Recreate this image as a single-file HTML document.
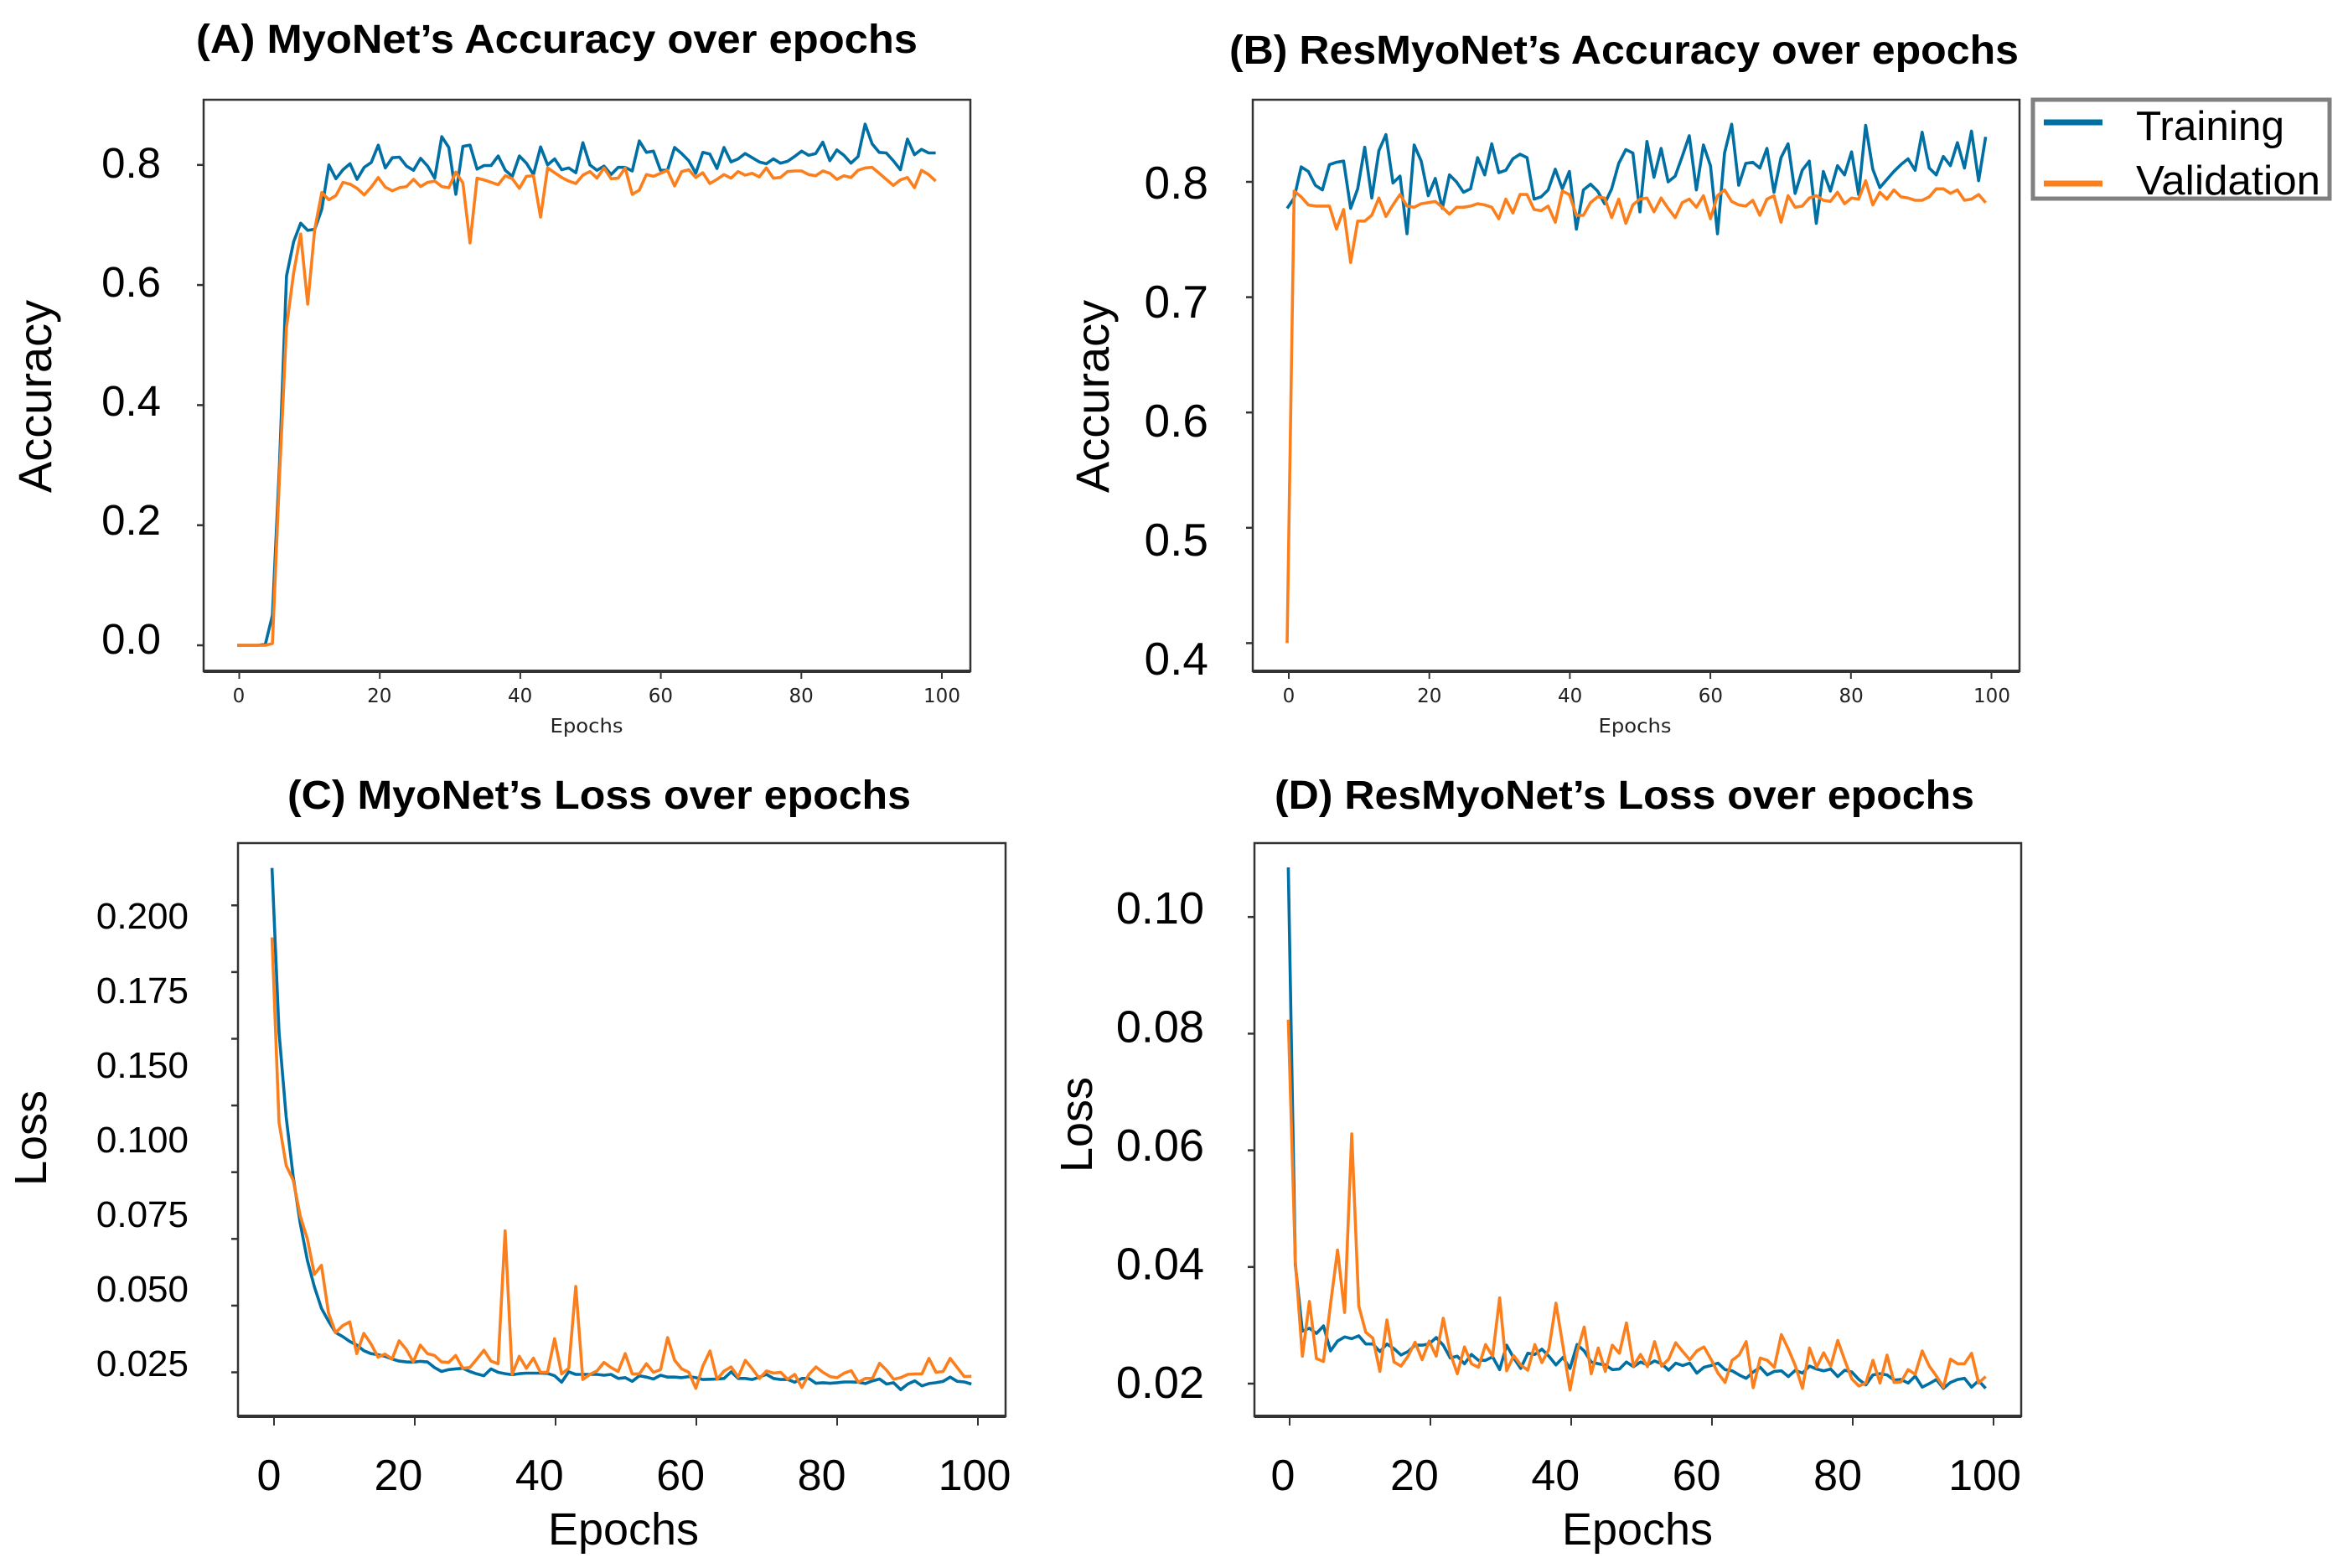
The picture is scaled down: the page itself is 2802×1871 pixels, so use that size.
<!DOCTYPE html>
<html>
<head>
<meta charset="utf-8">
<title>MyoNet and ResMyoNet training curves</title>
<style>
html,body{margin:0;padding:0;background:#fff;}
svg{display:block;}
text{font-family:"Liberation Sans",sans-serif;fill:#000;}
.mpl{font-family:"DejaVu Sans",sans-serif;fill:#222;}
</style>
</head>
<body>
<svg id="figure" xmlns="http://www.w3.org/2000/svg" width="2802" height="1871" viewBox="0 0 2802 1871">
  <rect x="0" y="0" width="2802" height="1871" fill="#fff"/>
  <text x="234" y="63" font-size="48" font-weight="bold" textLength="861" lengthAdjust="spacingAndGlyphs">(A) MyoNet’s Accuracy over epochs</text>
  <text x="1467" y="76" font-size="48" font-weight="bold" textLength="942" lengthAdjust="spacingAndGlyphs">(B) ResMyoNet’s Accuracy over epochs</text>
  <text x="343" y="965" font-size="48" font-weight="bold" textLength="744" lengthAdjust="spacingAndGlyphs">(C) MyoNet’s Loss over epochs</text>
  <text x="1521" y="965" font-size="48" font-weight="bold" textLength="835" lengthAdjust="spacingAndGlyphs">(D) ResMyoNet’s Loss over epochs</text>
  <text font-size="56" text-anchor="middle" transform="translate(61 473) rotate(-90)">Accuracy</text>
  <text font-size="56" text-anchor="middle" transform="translate(1323 473) rotate(-90)">Accuracy</text>
  <text font-size="54" text-anchor="middle" transform="translate(55 1358) rotate(-90)">Loss</text>
  <text font-size="54" text-anchor="middle" transform="translate(1303 1342) rotate(-90)">Loss</text>
  <text class="mpl" x="700" y="874" font-size="23" text-anchor="middle" textLength="87" lengthAdjust="spacingAndGlyphs">Epochs</text>
  <text class="mpl" x="1951" y="874" font-size="23" text-anchor="middle" textLength="87" lengthAdjust="spacingAndGlyphs">Epochs</text>
  <text x="744" y="1843" font-size="54" text-anchor="middle">Epochs</text>
  <text x="1954" y="1843" font-size="54" text-anchor="middle">Epochs</text>
  <g>
    <rect x="2426" y="119" width="354" height="118" fill="#fff" stroke="#808080" stroke-width="5"/>
    <line x1="2439" y1="146" x2="2509" y2="146" stroke="#006fa3" stroke-width="7"/>
    <text x="2549" y="167" font-size="49" textLength="177" lengthAdjust="spacingAndGlyphs">Training</text>
    <line x1="2439" y1="219" x2="2509" y2="219" stroke="#fb7f1c" stroke-width="7"/>
    <text x="2549" y="232" font-size="49" textLength="220" lengthAdjust="spacingAndGlyphs">Validation</text>
  </g>
</svg>
<script>
const myoTrainAccuracy = [0,0,0,0,.002,.05,.3,.615,.672,.703,.691,.693,.726,.8,.777,.792,.802,.776,.796,.804,
.833,.795,.812,.813,.798,.791,.811,.798,.778,.847,.829,.751,.831,.833,.793,.799,.799,.815,.791,.781,
.815,.803,.784,.83,.8,.81,.792,.795,.787,.837,.8,.791,.798,.784,.796,.796,.79,.84,.821,.823,
.791,.791,.829,.819,.807,.786,.821,.818,.794,.829,.805,.81,.819,.812,.805,.802,.81,.803,.806,.814,
.823,.816,.819,.838,.807,.825,.816,.803,.814,.868,.835,.821,.82,.807,.792,.843,.817,.826,.82,.82];
const myoValAccuracy = [0,0,0,0,0,.003,.28,.53,.62,.685,.568,.693,.754,.742,.749,.771,.768,.761,.75,.763,
.779,.763,.757,.762,.764,.776,.764,.771,.773,.764,.762,.788,.77,.67,.778,.775,.771,.767,.782,.777,
.761,.781,.782,.713,.795,.787,.779,.773,.769,.783,.789,.778,.795,.777,.778,.795,.751,.758,.784,.781,
.786,.791,.765,.789,.792,.779,.787,.769,.776,.784,.778,.789,.783,.786,.78,.795,.778,.779,.789,.79,
.79,.784,.782,.79,.786,.776,.782,.779,.791,.795,.796,.786,.776,.766,.775,.779,.762,.791,.784,.773];
const resTrainAccuracy = [.777,.786,.813,.809,.797,.793,.815,.817,.818,.777,.794,.83,.786,.827,.841,.799,.805,.755,.832,.818,
.788,.803,.777,.806,.8,.791,.794,.821,.806,.833,.808,.81,.82,.824,.821,.785,.787,.793,.811,.794,
.809,.759,.793,.798,.792,.781,.794,.816,.828,.825,.774,.835,.804,.829,.8,.805,.822,.84,.793,.832,
.814,.755,.825,.85,.797,.816,.817,.812,.829,.791,.821,.833,.79,.81,.818,.764,.809,.792,.814,.806,
.826,.789,.849,.811,.795,.802,.809,.815,.82,.81,.843,.812,.806,.822,.814,.834,.812,.844,.801,.839];
const resValAccuracy = [.4,.792,.787,.78,.779,.779,.779,.759,.776,.73,.766,.766,.771,.786,.77,.78,.789,.779,.778,.781,
.782,.783,.778,.772,.778,.778,.779,.781,.78,.778,.768,.785,.773,.789,.789,.776,.775,.779,.765,.792,
.789,.771,.771,.782,.787,.786,.769,.785,.764,.78,.785,.786,.774,.786,.777,.769,.782,.785,.778,.788,
.768,.788,.793,.783,.78,.779,.784,.771,.785,.788,.765,.788,.778,.779,.786,.788,.784,.783,.791,.781,
.786,.785,.801,.78,.791,.785,.793,.787,.786,.784,.784,.787,.794,.794,.79,.793,.784,.785,.789,.782];
const myoTrainLoss = [.214,.1523,.1207,.0983,.0808,.067,.057,.049,.0442,.0399,.0384,.0366,.0352,.0331,.032,.0316,.031,.03,.0292,.0289,
.0288,.0291,.0289,.0268,.0253,.026,.0263,.0265,.0253,.0244,.0237,.0263,.025,.0245,.0241,.0245,.0247,.0247,.0247,.0246,
.0237,.0213,.0252,.0242,.0242,.0242,.0242,.0239,.0242,.0227,.023,.0216,.0237,.0232,.0225,.0239,.0232,.0232,.023,.0234,
.023,.0223,.0224,.0225,.0227,.0252,.0227,.0227,.0223,.0232,.0242,.0227,.0223,.0223,.0213,.0227,.0227,.0209,.0211,.0209,
.0211,.0214,.0214,.0213,.0208,.0218,.0225,.0206,.0211,.0185,.0206,.0218,.0199,.0208,.0211,.0216,.0232,.0216,.0214,.0206];
const myoValLoss = [.188,.1186,.1025,.097,.0836,.075,.0617,.0651,.0473,.0399,.0425,.0439,.032,.0396,.0357,.0307,.0318,.03,.0368,.0336,
.0289,.0352,.032,.0313,.0289,.0287,.0313,.0265,.0268,.03,.0333,.0292,.0282,.078,.0242,.031,.0265,.0303,.025,.025,
.0376,.0244,.0265,.0572,.0223,.0242,.0255,.0287,.0268,.0253,.032,.0244,.0244,.0282,.025,.026,.038,.0295,.0263,.025,
.019,.0274,.033,.0224,.0255,.027,.0232,.0295,.0263,.0227,.0255,.0247,.025,.0224,.0242,.0193,.0242,.027,.025,.0234,
.023,.0247,.0256,.0213,.0227,.0227,.0284,.0258,.0224,.023,.0242,.0244,.0244,.0302,.025,.0253,.0302,.0268,.0234,.0235];
const resTrainLoss = [.1085,.0404,.029,.0295,.0286,.0299,.0256,.0273,.028,.0277,.0282,.0268,.0268,.0255,.0268,.026,.0249,.0255,.0266,.0266,
.0268,.0279,.0266,.0244,.0247,.0234,.025,.024,.024,.0246,.0224,.0266,.0244,.0226,.0252,.025,.0259,.0247,.0232,.0245,
.0226,.0267,.0256,.0237,.0234,.0232,.0224,.0225,.0237,.0229,.0237,.0232,.0239,.0234,.0223,.0235,.0231,.0235,.0218,.0228,
.0231,.0235,.0224,.0222,.0215,.0209,.022,.0228,.0215,.0221,.0222,.0212,.0223,.0218,.023,.0225,.0222,.0225,.0212,.0223,
.022,.0207,.0198,.0215,.0217,.0215,.0206,.0207,.0201,.0213,.0194,.02,.0207,.0192,.0202,.0207,.0209,.0194,.0205,.0192];
const resValLoss = [.0824,.041,.0247,.0341,.0243,.0238,.0336,.0429,.0322,.0628,.0333,.0288,.0278,.0221,.0309,.0237,.023,.0247,.0271,.0241,
.0273,.0247,.0312,.0252,.0217,.0263,.0234,.0228,.0267,.0247,.0347,.0222,.0248,.0232,.0223,.0267,.0236,.0259,.0338,.0264,
.0189,.0254,.0297,.0217,.0261,.0221,.0266,.0252,.0304,.023,.025,.0229,.0272,.023,.0242,.027,.0255,.0241,.0256,.0263,
.0242,.0218,.0202,.024,.0249,.0272,.0193,.0244,.024,.0228,.0284,.0259,.023,.0192,.0261,.0228,.0253,.023,.0274,.024,
.0208,.0196,.0201,.024,.0201,.0249,.0202,.0203,.0224,.0216,.0256,.023,.0213,.0194,.0242,.0234,.0234,.0252,.0201,.0212];

const xTicks = [0,20,40,60,80,100];
const xTickLabels = ['0','20','40','60','80','100'];
const myoAccuracyTicks = [0,.2,.4,.6,.8];
const myoAccuracyLabels = ['0.0','0.2','0.4','0.6','0.8'];
const resAccuracyTicks = [.4,.5,.6,.7,.8];
const resAccuracyLabels = ['0.4','0.5','0.6','0.7','0.8'];
const myoLossTicks = [.025,.05,.075,.1,.125,.15,.175,.2];
const myoLossLabels = ['0.025','0.050','0.075','0.100','0.150','0.175','0.200'];
const resLossTicks = [.02,.04,.06,.08,.1];
const resLossLabels = ['0.02','0.04','0.06','0.08','0.10'];

const SVG_NS = 'http://www.w3.org/2000/svg';
const figure = document.getElementById('figure');
const BLUE = '#006fa3';
const ORANGE = '#fb7f1c';

function makeEl(tag, parent) {
  const el = document.createElementNS(SVG_NS, tag);
  parent.appendChild(el);
  return el;
}

function drawPanel(p) {
  const g = makeEl('g', figure);
  
  

  const lineX = e => p.lineX0 + e * p.lineDx;
  const tickX = v => p.tickX0 + v * p.tickDx;
  const valueY = v => p.yRef - (v - p.vRef) * p.yPerUnit;

  const frame = makeEl('rect', g);
  
  
  frame.setAttribute('x', p.left);
  frame.setAttribute('y', p.top);
  frame.setAttribute('width', p.right - p.left);
  frame.setAttribute('height', p.bottom - p.top);
  frame.setAttribute('fill', '#fff');
  frame.setAttribute('stroke', '#333');
  frame.setAttribute('stroke-width', '2.5');

  const spine = makeEl('line', g);
  
  
  spine.setAttribute('x1', p.left);
  spine.setAttribute('x2', p.right);
  spine.setAttribute('y1', p.bottom);
  spine.setAttribute('y2', p.bottom);
  spine.setAttribute('stroke', '#333');
  spine.setAttribute('stroke-width', '4');

  p.yTicks.forEach(v => {
    const t = makeEl('line', g);
    
    
    t.setAttribute('x1', p.left - 8);
    t.setAttribute('x2', p.left);
    t.setAttribute('y1', valueY(v));
    t.setAttribute('y2', valueY(v));
    t.setAttribute('stroke', '#333');
    t.setAttribute('stroke-width', '2.5');
  });

  p.yLabels.forEach((label, i) => {
    const t = makeEl('text', g);
    
    
    t.setAttribute('x', p.yLabelRight);
    t.setAttribute('y', p.yLabelBottom - i * p.yLabelStep);
    t.setAttribute('font-size', p.yLabelSize);
    t.setAttribute('text-anchor', 'end');
    t.textContent = label;
  });

  xTicks.forEach((v, i) => {
    const t = makeEl('line', g);
    
    
    t.setAttribute('x1', tickX(v));
    t.setAttribute('x2', tickX(v));
    t.setAttribute('y1', p.bottom);
    t.setAttribute('y2', p.bottom + p.xTickLen);
    t.setAttribute('stroke', '#333');
    t.setAttribute('stroke-width', '2');

    const l = makeEl('text', g);
    
    
    const endShift = v === 0 ? p.xLabelFirstShift : (v === 100 ? p.xLabelLastShift : 0);
    l.setAttribute('x', p.xLabelX0 + v * p.xLabelDx + endShift);
    l.setAttribute('y', p.xLabelY);
    l.setAttribute('font-size', p.xLabelSize);
    l.setAttribute('text-anchor', 'middle');
    if (p.smallLabels) l.setAttribute('class', 'mpl');
    l.textContent = xTickLabels[i];
  });

  [[p.train, BLUE, 'training'], [p.val, ORANGE, 'validation']].forEach(([vals, color, nm]) => {
    const path = makeEl('polyline', g);
    
    
    path.setAttribute('points', vals.map((v, e) => lineX(e).toFixed(1) + ',' + valueY(v).toFixed(1)).join(' '));
    path.setAttribute('fill', 'none');
    path.setAttribute('stroke', color);
    path.setAttribute('stroke-width', '3.6');
    path.setAttribute('stroke-linejoin', 'round');
  });
}

drawPanel({id:'a', train:myoTrainAccuracy, val:myoValAccuracy, yTicks:myoAccuracyTicks, yLabels:myoAccuracyLabels,
  left:243, right:1158, top:119, bottom:801, lineX0:283, lineDx:8.42, tickX0:285.5, tickDx:8.385,
  yRef:770, vRef:0, yPerUnit:716.5, yLabelRight:192, yLabelBottom:780, yLabelStep:142, yLabelSize:51,
  xTickLen:9, xLabelX0:285, xLabelDx:8.39, xLabelFirstShift:0, xLabelLastShift:0, xLabelY:838, xLabelSize:23, smallLabels:true});
drawPanel({id:'b', train:resTrainAccuracy, val:resValAccuracy, yTicks:resAccuracyTicks, yLabels:resAccuracyLabels,
  left:1495, right:2410, top:119, bottom:801, lineX0:1536, lineDx:8.42, tickX0:1538, tickDx:8.385,
  yRef:217, vRef:.8, yPerUnit:1376, yLabelRight:1442, yLabelBottom:805, yLabelStep:142, yLabelSize:55,
  xTickLen:9, xLabelX0:1538, xLabelDx:8.39, xLabelFirstShift:0, xLabelLastShift:0, xLabelY:838, xLabelSize:23, smallLabels:true});
drawPanel({id:'c', train:myoTrainLoss, val:myoValLoss, yTicks:myoLossTicks, yLabels:myoLossLabels,
  left:284, right:1200, top:1006, bottom:1690, lineX0:324.6, lineDx:8.43, tickX0:327, tickDx:8.4,
  yRef:1637.5, vRef:.025, yPerUnit:3184, yLabelRight:225, yLabelBottom:1642, yLabelStep:89, yLabelSize:44,
  xTickLen:11, xLabelX0:307, xLabelDx:8.42, xLabelFirstShift:14, xLabelLastShift:14, xLabelY:1778, xLabelSize:52, smallLabels:false});
drawPanel({id:'d', train:resTrainLoss, val:resValLoss, yTicks:resLossTicks, yLabels:resLossLabels,
  left:1497, right:2412, top:1006, bottom:1690, lineX0:1537.4, lineDx:8.406, tickX0:1539, tickDx:8.4,
  yRef:1651, vRef:.02, yPerUnit:6960, yLabelRight:1437, yLabelBottom:1668, yLabelStep:141.5, yLabelSize:54,
  xTickLen:11, xLabelX0:1519.5, xLabelDx:8.42, xLabelFirstShift:11.5, xLabelLastShift:7, xLabelY:1778, xLabelSize:52, smallLabels:false});
</script>
</body>
</html>
